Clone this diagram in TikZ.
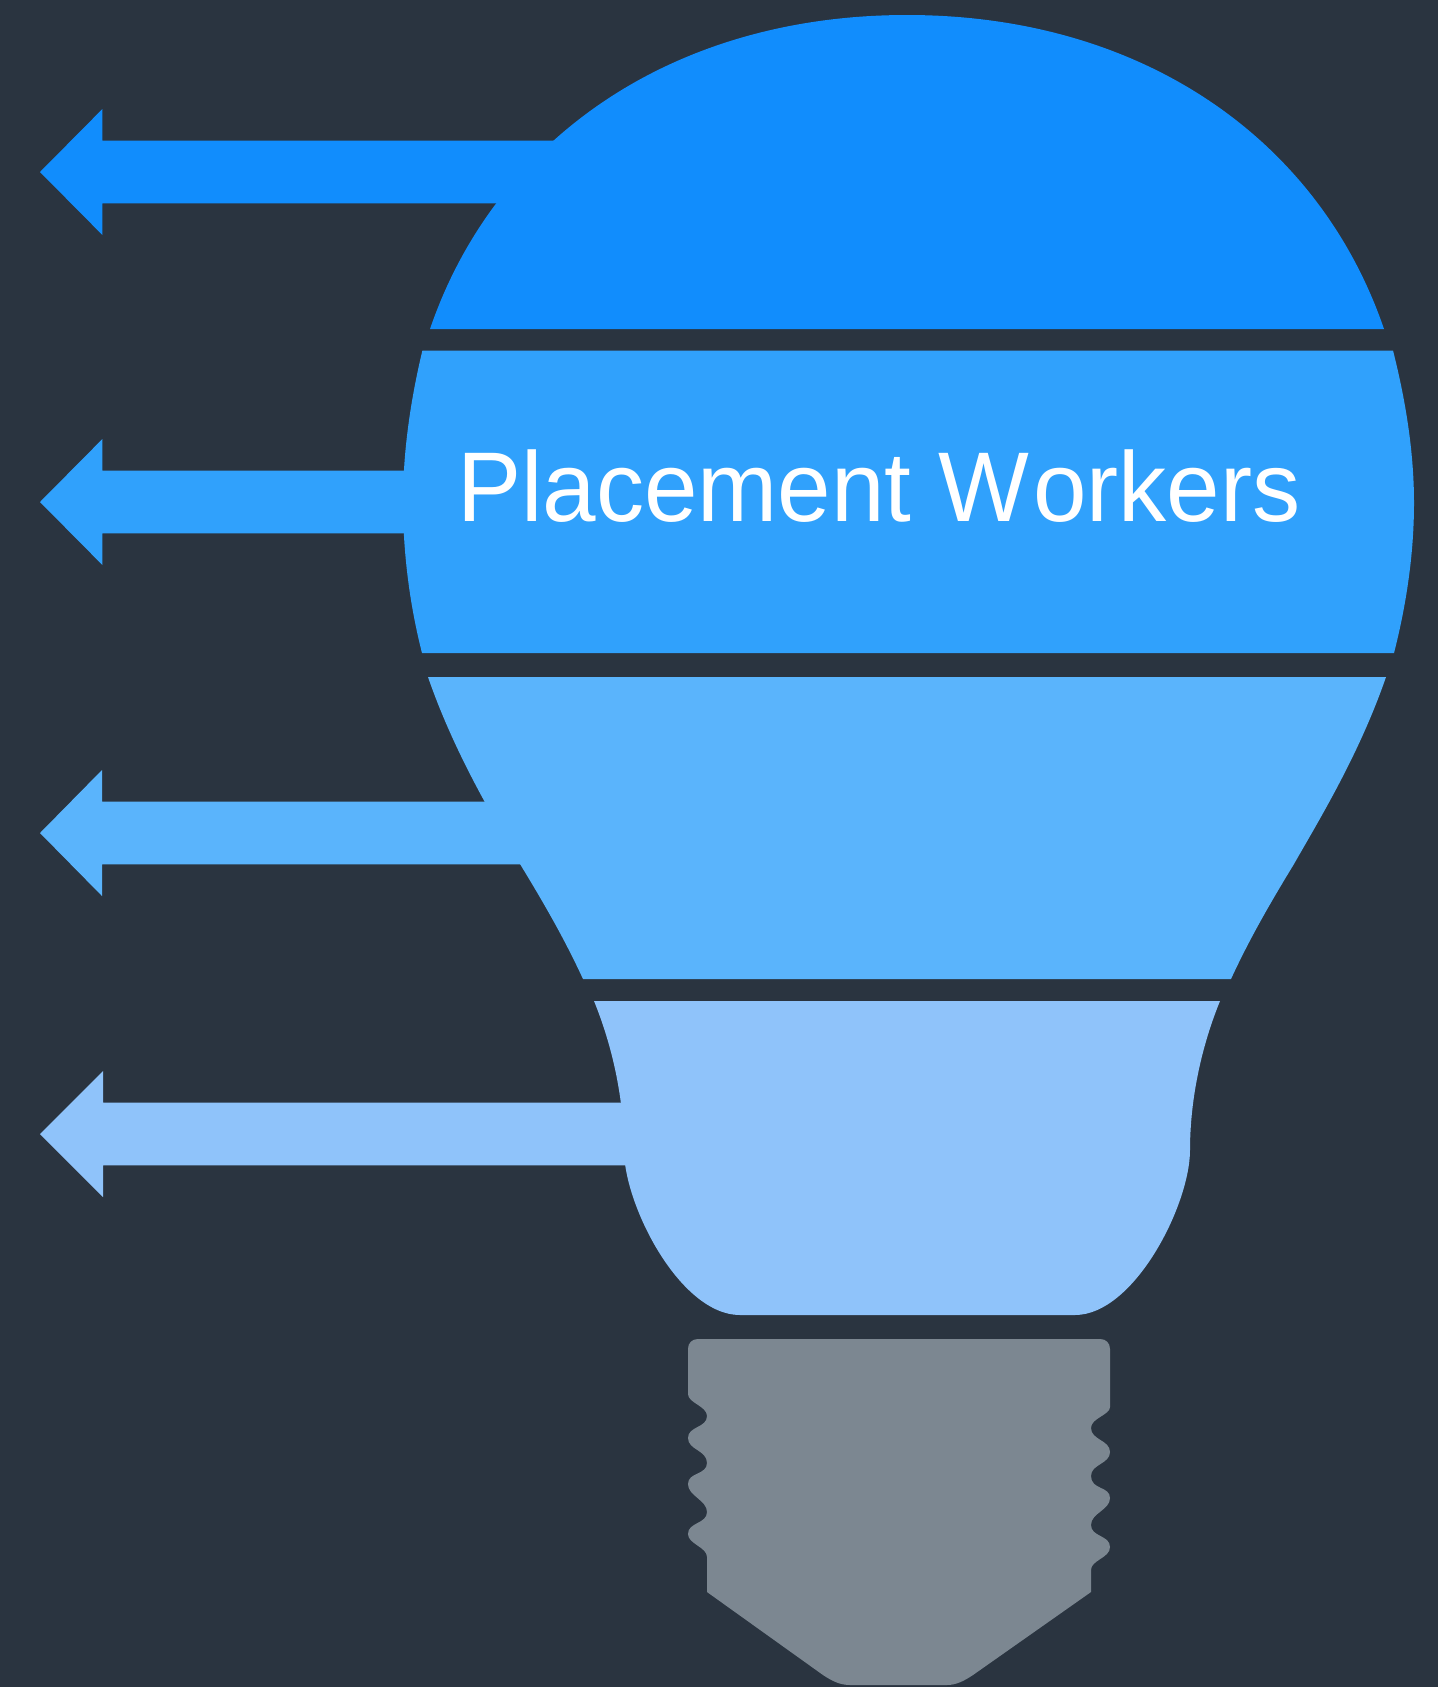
\documentclass[tikz,border=0pt]{standalone}
\usepackage{fontspec}
\setmainfont[Kerning=Off]{Liberation Sans}
\definecolor{bulbbg}{HTML}{2A3440}
\definecolor{bandA}{HTML}{118DFD}
\definecolor{bandB}{HTML}{30A1FC}
\definecolor{bandC}{HTML}{5AB4FC}
\definecolor{bandD}{HTML}{8FC3FA}
\definecolor{socket}{HTML}{7C8791}
\begin{document}
\begin{tikzpicture}[x=1pt, y=-1pt]
	\fill[bulbbg] (0,0) rectangle (1438,1687);
	\useasboundingbox (0,0) rectangle (1438,1687);
	% arrows
	\foreach \yy/\hx/\ex/\col in {172/102.4/700/bandA, 502/102.4/500/bandB, 833/102/700/bandC, 1134/103/800/bandD}
		\fill[\col] (40,\yy) -- (\hx,\yy-63) -- (\hx,\yy-31.4) -- (\ex,\yy-31.4) -- (\ex,\yy+31.4) -- (\hx,\yy+31.4) -- (\hx,\yy+63) -- cycle;
	% bulb bands
	\fill[bandA] (430,329) .. controls (495,139) and (672,15) .. (907,15) .. controls (1142,15) and (1319,139) .. (1384,329) -- cycle;
	\fill[bandB] (422.4,350.5) -- (1393,350.5) .. controls (1405,398) and (1414,450) .. (1414,503) .. controls (1414,555) and (1406,606) .. (1394,653) -- (422,653) .. controls (410,606) and (403,554) .. (403,502) .. controls (403,450) and (411,398) .. cycle;
	\fill[bandC] (428,677) -- (1386,677) .. controls (1359,755) and (1319,820) .. (1294,864) .. controls (1269,905) and (1249,940) .. (1231,979) -- (583,979) .. controls (565,940) and (545,905) .. (520,864) .. controls (495,820) and (455,755) .. cycle;
	\fill[bandD] (594,1001) -- (1220,1001) .. controls (1202,1045) and (1190,1098) .. (1190,1150) .. controls (1190,1205) and (1134,1315) .. (1075,1315) -- (740,1315) .. controls (680,1315) and (624,1205) .. (624,1150) .. controls (624,1098) and (612,1045) .. cycle;
	% socket
	\fill[socket] (698,1339) -- (1100,1339) .. controls (1106,1339) and (1110,1343) .. (1110,1349) -- (1110,1407)
		.. controls (1110,1415) and (1091,1418) .. (1091,1428) .. controls (1091,1440) and (1110,1440) .. (1110,1452)
		.. controls (1110,1464) and (1091,1464) .. (1091,1476) .. controls (1091,1490) and (1110,1486) .. (1110,1498)
		.. controls (1110,1510) and (1091,1513) .. (1091,1525) .. controls (1091,1537) and (1110,1535) .. (1110,1547)
		.. controls (1110,1558) and (1091,1560) .. (1091,1570) -- (1091,1592) -- (973,1675)
		.. controls (964,1681) and (956,1685) .. (947,1685) -- (850,1685) .. controls (840,1685) and (832,1681) .. (823,1675)
		-- (707,1592) -- (707,1557) .. controls (707,1547) and (688,1544) .. (688,1534)
		.. controls (688,1522) and (707,1524) .. (707,1512) .. controls (707,1500) and (688,1496) .. (688,1484)
		.. controls (688,1472) and (707,1475) .. (707,1463) .. controls (707,1450) and (688,1450) .. (688,1438)
		.. controls (688,1426) and (707,1428) .. (707,1416) .. controls (707,1406) and (688,1403) .. (688,1394)
		-- (688,1349) .. controls (688,1343) and (692,1339) .. cycle;
	% label
	\node[anchor=base west, inner sep=0pt, text=white, yscale=1.03, transform shape, font=\fontsize{96.2}{96.2}\selectfont] (title) at (457,521) {Placement W\kern4pt orkers};
\end{tikzpicture}
\end{document}
